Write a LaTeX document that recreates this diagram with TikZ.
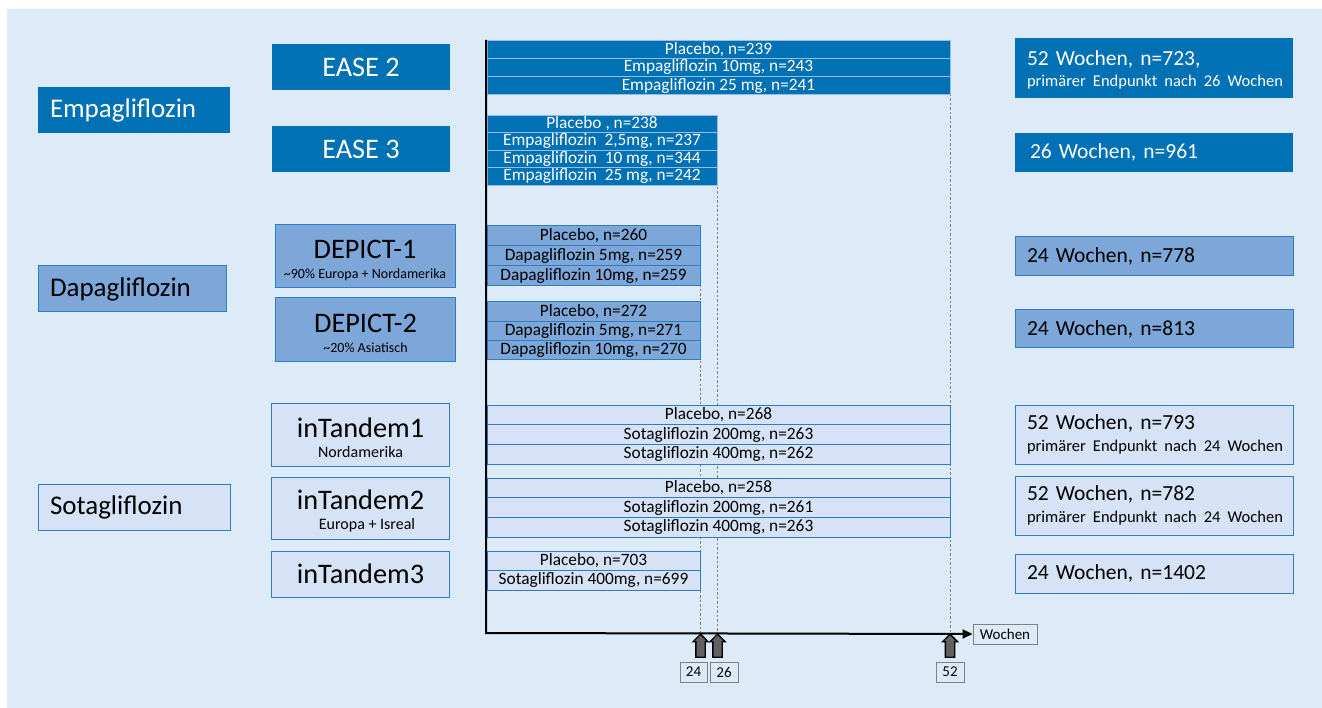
\documentclass[tikz,border=0pt]{standalone}
\usepackage{fontspec}
\setmainfont{Carlito}
\usetikzlibrary{arrows.meta,shapes.arrows}

\definecolor{bgblue}{RGB}{221,234,247}
\definecolor{empblue}{RGB}{0,113,181}
\definecolor{dapblue}{RGB}{124,167,216}
\definecolor{sotblue}{RGB}{214,226,245}
\definecolor{lineblue}{RGB}{46,125,192}
\definecolor{barline}{RGB}{150,190,228}

\newcommand{\subtext}[2]{{\fontsize{#1}{18}\selectfont #2}}

\tikzset{
  drug/.style={minimum height=46pt, inner xsep=12pt, inner ysep=0pt, align=left, font=\fontsize{27}{32}\selectfont},
  study/.style={minimum width=178pt, inner sep=0pt, align=center, font=\fontsize{28.3}{30}\selectfont},
  result/.style={inner xsep=12pt, inner ysep=0pt, text width=254pt, align=left, font=\fontsize{21.5}{24}\selectfont},
  bar/.style={anchor=north west, inner sep=0pt, outer sep=0pt, font=\fontsize{17.3}{18}\selectfont},
  empbar/.style={bar, fill=empblue, draw=barline, line width=0.8pt, text=white},
  dapbar/.style={bar, fill=dapblue, draw=lineblue, line width=1pt},
  sotbar/.style={bar, fill=sotblue, draw=lineblue, line width=1pt},
  weekline/.style={draw=gray, dash pattern=on 2.5pt off 2pt, line width=0.8pt},
  weekarrow/.style={single arrow, rotate=90, draw=black, line width=1.3pt, fill=black!62, inner sep=4pt, single arrow head extend=3pt, minimum height=23pt},
  weeklabel/.style={draw=gray, line width=1pt, minimum width=27pt, minimum height=20pt, inner sep=0pt, font=\fontsize{15}{16}\selectfont}
}

\begin{document}
\begin{tikzpicture}[x=1pt, y=-1pt]
            \useasboundingbox (0,0) rectangle (1322,708);
            \fill[bgblue] (7,9) rectangle (1322,708);

            % Wirkstoffe
            \node[drug, fill=empblue, text=white, text width=168pt] (empa) at (134,110) {Empagliflozin};
            \node[drug, fill=dapblue, draw=lineblue, line width=1pt, text width=164pt] (dapa) at (132,289) {Dapagliflozin};
            \node[drug, fill=sotblue, draw=lineblue, line width=1pt, text width=168pt] (sota) at (134,507) {Sotagliflozin};

            % Studien
            \node[study, fill=empblue, text=white, minimum height=46pt] (ease2) at (361,67) {EASE 2};
            \node[study, fill=empblue, text=white, minimum height=46pt] (ease3) at (361,149) {EASE 3};
            \node[study, fill=dapblue, draw=lineblue, line width=1pt, minimum width=180pt, minimum height=63pt] (depict1) at (365,256.5) {\rule{0pt}{26pt}DEPICT-1\\[-10pt]\subtext{14}{\textasciitilde90\% Europa + Nordamerika}};
            \node[study, fill=dapblue, draw=lineblue, line width=1pt, minimum width=180pt, minimum height=64pt] (depict2) at (365.5,330) {\rule{0pt}{26pt}DEPICT-2\\[-10pt]\subtext{14}{\textasciitilde20\% Asiatisch}};
            \node[study, fill=sotblue, draw=lineblue, line width=1pt, minimum height=63pt] (tandem1) at (360.5,434.5) {\rule{0pt}{26pt}inTandem1\\[-10pt]\subtext{16}{Nordamerika}};
            \node[study, fill=sotblue, draw=lineblue, line width=1pt, minimum height=62pt] (tandem2) at (360.5,508) {\rule{0pt}{26pt}inTandem2\\[-10pt]\subtext{16}{\hspace{13pt}Europa + Isreal}};
            \node[study, fill=sotblue, draw=lineblue, line width=1pt, minimum height=46pt] (tandem3) at (360.5,574) {inTandem3};

            % Wochen-Markierungen
            \coordinate (origin) at (486,633);
            \coordinate (ytop) at (486,40);
            \coordinate (t24) at (700,226);
            \coordinate (t26) at (717,115);
            \coordinate (t52) at (950,40);
            \draw[weekline] (t24) -- (t24 |- origin);
            \draw[weekline] (t26) -- (t26 |- origin);
            \draw[weekline] (t52) -- (t52 |- origin);

            % Behandlungsarme EASE 2
            \node[empbar, minimum width=463pt, minimum height=18.3pt] (e2a) at (487,40) {Placebo, n=239};
            \node[empbar, minimum width=463pt, minimum height=18.3pt] (e2b) at (e2a.south west) {Empagliflozin 10mg, n=243};
            \node[empbar, minimum width=463pt, minimum height=18.3pt] (e2c) at (e2b.south west) {Empagliflozin 25 mg, n=241};

            % Behandlungsarme EASE 3
            \node[empbar, minimum width=230pt, minimum height=17.5pt] (e3a) at (487,115) {Placebo , n=238};
            \node[empbar, minimum width=230pt, minimum height=17.5pt] (e3b) at (e3a.south west) {Empagliflozin~ 2,5mg, n=237};
            \node[empbar, minimum width=230pt, minimum height=17.5pt] (e3c) at (e3b.south west) {Empagliflozin~ 10 mg, n=344};
            \node[empbar, minimum width=230pt, minimum height=17.5pt] (e3d) at (e3c.south west) {Empagliflozin~ 25 mg, n=242};

            % Behandlungsarme DEPICT
            \node[dapbar, minimum width=213pt, minimum height=20pt] (d1a) at (487,226) {Placebo, n=260};
            \node[dapbar, minimum width=213pt, minimum height=20pt] (d1b) at (d1a.south west) {Dapagliflozin 5mg, n=259};
            \node[dapbar, minimum width=213pt, minimum height=20pt] (d1c) at (d1b.south west) {Dapagliflozin 10mg, n=259};
            \node[dapbar, minimum width=213pt, minimum height=19.3pt] (d2a) at (487,302) {Placebo, n=272};
            \node[dapbar, minimum width=213pt, minimum height=19.3pt] (d2b) at (d2a.south west) {Dapagliflozin 5mg, n=271};
            \node[dapbar, minimum width=213pt, minimum height=19.3pt] (d2c) at (d2b.south west) {Dapagliflozin 10mg, n=270};

            % Behandlungsarme inTandem
            \node[sotbar, minimum width=463pt, minimum height=19.7pt] (s1a) at (487,405) {Placebo, n=268};
            \node[sotbar, minimum width=463pt, minimum height=19.7pt] (s1b) at (s1a.south west) {Sotagliflozin 200mg, n=263};
            \node[sotbar, minimum width=463pt, minimum height=19.7pt] (s1c) at (s1b.south west) {Sotagliflozin 400mg, n=262};
            \node[sotbar, minimum width=463pt, minimum height=19.7pt] (s2a) at (487,478) {Placebo, n=258};
            \node[sotbar, minimum width=463pt, minimum height=19.7pt] (s2b) at (s2a.south west) {Sotagliflozin 200mg, n=261};
            \node[sotbar, minimum width=463pt, minimum height=19.7pt] (s2c) at (s2b.south west) {Sotagliflozin 400mg, n=263};
            \node[sotbar, minimum width=213pt, minimum height=19.5pt] (s3a) at (487,551) {Placebo, n=703};
            \node[sotbar, minimum width=213pt, minimum height=19.5pt] (s3b) at (s3a.south west) {Sotagliflozin 400mg, n=699};

            % Zeitachse
            \node[draw=gray, line width=1pt, minimum width=64pt, minimum height=20pt, inner sep=0pt, font=\fontsize{15}{16}\selectfont] (wochen) at (1005,634) {Wochen};
            \draw[line width=2pt, -{Triangle[length=10pt, width=9pt]}] (ytop) -- (origin) -- (wochen.west);

            \node[weekarrow] (a24) at (700.5,648) {};
            \node[weekarrow] (a26) at (717.5,648) {};
            \node[weekarrow] (a52) at (950,648) {};
            \node[weeklabel] (l24) at (693.5,672) {24};
            \node[weeklabel, minimum width=28pt] (l26) at (724,672) {26};
            \node[weeklabel, minimum width=28pt] (l52) at (950,672) {52};

            % Studiendauer
            \node[result, fill=empblue, text=white, minimum height=60pt] (r1) at (1154,68) {\rule{0pt}{19pt}52 Wochen, n=723,\\[-3pt]\subtext{16.5}{\mbox{primärer Endpunkt nach 26 Wochen}}};
            \node[result, fill=empblue, text=white, minimum height=39pt] (r2) at (1154,152.5) {\hspace{3pt}26 Wochen, n=961};
            \node[result, fill=dapblue, draw=lineblue, line width=1pt, minimum height=39pt] (r3) at (1154,256.5) {24 Wochen, n=778};
            \node[result, fill=dapblue, draw=lineblue, line width=1pt, minimum height=38pt] (r4) at (1154,329) {24 Wochen, n=813};
            \node[result, fill=sotblue, draw=lineblue, line width=1pt, minimum height=59pt] (r5) at (1154,434.5) {52 Wochen, n=793\\[-1.5pt]\subtext{16.5}{\mbox{primärer Endpunkt nach 24 Wochen}}};
            \node[result, fill=sotblue, draw=lineblue, line width=1pt, minimum height=59pt] (r6) at (1154,505.5) {52 Wochen, n=782\\[-1.5pt]\subtext{16.5}{\mbox{primärer Endpunkt nach 24 Wochen}}};
            \node[result, fill=sotblue, draw=lineblue, line width=1pt, minimum height=39pt] (r7) at (1154,573.5) {24 Wochen, n=1402};
\end{tikzpicture}
\end{document}
